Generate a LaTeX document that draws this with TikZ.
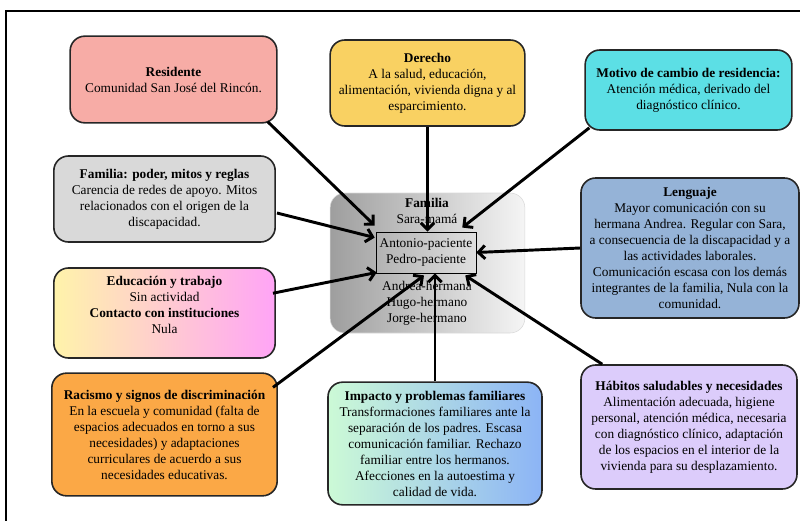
\documentclass[tikz,border=0pt]{standalone}
\usepackage{fontspec}
\setmainfont{Liberation Serif}
\usetikzlibrary{arrows.meta,shapes.misc}

\definecolor{cRes}{RGB}{247,172,166}
\definecolor{cDer}{RGB}{249,209,98}
\definecolor{cMot}{RGB}{92,223,229}
\definecolor{cFam}{RGB}{217,217,217}
\definecolor{cLen}{RGB}{149,179,215}
\definecolor{cRac}{RGB}{251,168,70}
\definecolor{cHab}{RGB}{220,204,251}
\definecolor{cEduA}{RGB}{255,243,170}
\definecolor{cEduB}{RGB}{255,164,246}
\definecolor{cImpA}{RGB}{204,250,214}
\definecolor{cImpB}{RGB}{140,180,246}

\tikzset{
  box/.style={draw=black!85, line width=1.2pt, rounded corners=11pt, align=center, inner sep=2pt},
  link/.style={-{Straight Barb[length=5pt,width=10pt]}, line width=2.2pt},
}

\begin{document}
\begin{tikzpicture}[x=0.75pt, y=-0.75pt]
	\useasboundingbox (0,0) rectangle (800,521);
	\draw[line width=1.6pt] (6,521) -- (6,11) -- (800,11);

	% familia al centro
	\node[rounded corners=11pt, draw=black!15, left color=black!38, right color=black!4,
	      minimum width=146pt, minimum height=105pt] (fam) at (427.5,263) {};
	\node[align=center] (famtop) at (427,211) {\textbf{Familia}\\Sara-mamá};
	\node[draw, thin, align=center, minimum width=75pt, minimum height=31pt, inner sep=1pt] (pac) at (426,252.5) {Antonio-paciente\\Pedro-paciente};
	\node[align=center] (famlow) at (427,303.5) {Andrea-hermana\\Hugo-hermano\\Jorge-hermano};

	% recuadros
	\node[box, fill=cRes, minimum width=155pt, minimum height=65pt] (res) at (173.5,79.5)
		{\textbf{Residente}\\Comunidad San José del Rincón.};
	\node[box, fill=cDer, minimum width=146pt, minimum height=64.5pt] (der) at (427.5,83)
		{\textbf{Derecho}\\A la salud, educación,\\alimentación, vivienda digna y al\\esparcimiento.};
	\node[box, fill=cMot, minimum width=155pt, minimum height=60pt] (mot) at (688.5,90)
		{\textbf{Motivo de cambio de residencia:}\\Atención médica, derivado del\\diagnóstico clínico.};
	\node[box, fill=cFam, minimum width=166pt, minimum height=64.5pt] (famp) at (164.5,199)
		{\textbf{Familia: poder, mitos y reglas}\\Carencia de redes de apoyo. Mitos\\relacionados con el origen de la\\discapacidad.};
	\node[box, fill=cLen, minimum width=163.5pt, minimum height=105pt] (len) at (690,248)
		{\textbf{Lenguaje}\\Mayor comunicación con su\\hermana Andrea. Regular con Sara,\\a consecuencia de la discapacidad y a\\las actividades laborales.\\Comunicación escasa con los demás\\integrantes de la familia, Nula con la\\comunidad.};
	\node[box, left color=cEduA, right color=cEduB, minimum width=166pt, minimum height=67.5pt] (edu) at (164.5,313)
		{\textbf{Educación y trabajo}\\Sin actividad\\\textbf{Contacto con instituciones}\\Nula\\\mbox{}};
	\node[box, fill=cRac, minimum width=169pt, minimum height=92pt] (rac) at (164.5,434.5)
		{\textbf{Racismo y signos de discriminación}\\En la escuela y comunidad (falta de\\espacios adecuados en torno a sus\\necesidades) y adaptaciones\\curriculares de acuerdo a sus\\necesidades educativas.};
	\node[box, left color=cImpA, right color=cImpB, minimum width=160.5pt, minimum height=92pt] (imp) at (435,443.5)
		{\textbf{Impacto y problemas familiares}\\Transformaciones familiares ante la\\separación de los padres. Escasa\\comunicación familiar. Rechazo\\familiar entre los hermanos.\\Afecciones en la autoestima y\\calidad de vida.};
	\node[box, fill=cHab, minimum width=162pt, minimum height=93pt] (hab) at (689,427)
		{\textbf{Hábitos saludables y necesidades}\\Alimentación adecuada, higiene\\personal, atención médica, necesaria\\con diagnóstico clínico, adaptación\\de los espacios en el interior de la\\vivienda para su desplazamiento.};

	% flechas
	\draw[link] ([shift={(-10,-2)}]res.south east) -- ([shift={(-1,-6)}]pac.north west);
	\draw[link] ([shift={(1,14)}]famp.east) -- ([shift={(-1,6)}]pac.north west);
	\draw[link] (der.south) -- (der.south |- pac.north);
	\draw[link] ([shift={(5,-3)}]mot.south west) -- ([shift={(-14,-4)}]pac.north east);
	\draw[link] (len.west) -- (pac.east);
	\draw[link] ([shift={(-3,26)}]edu.north east) -- ([shift={(1,-1)}]pac.south west);
	\draw[link] ([shift={(-5,15)}]rac.north east) -- ([shift={(-2,2)}]pac.south);
	\draw[link] (imp.north) -- (imp.north |- pac.south);
	\draw[link] ([shift={(22,0)}]hab.north west) -- ([shift={(-11,2)}]pac.south east);
\end{tikzpicture}
\end{document}
